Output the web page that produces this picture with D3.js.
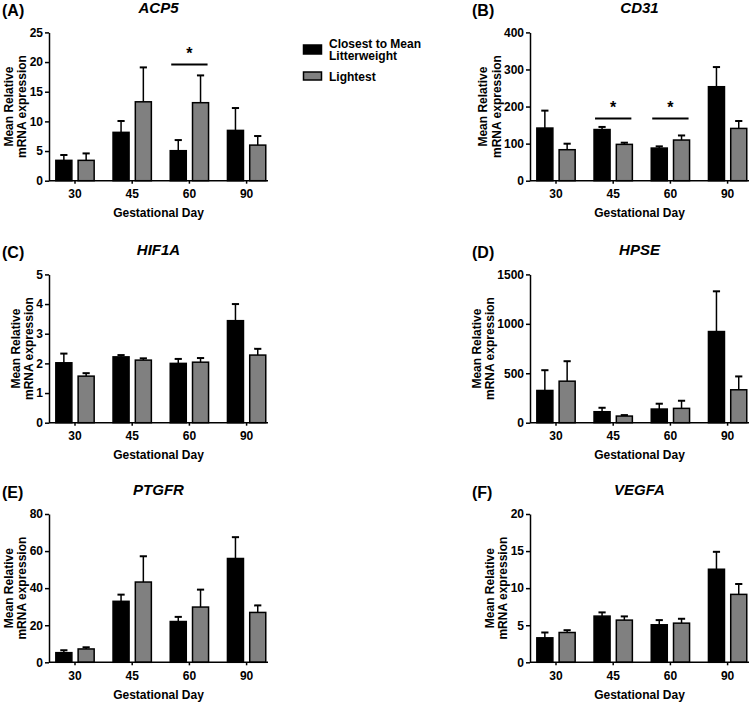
<!DOCTYPE html>
<html>
<head>
<meta charset="utf-8">
<script src="https://cdn.jsdelivr.net/npm/d3@7"></script>
<style>
  body { margin: 0; background: #fff; }
  text { font-family: 'Liberation Sans', Arial, sans-serif; font-weight: bold; fill: #000; }
</style>
</head>
<body>
<svg id="chart" width="756" height="705"></svg>
<script>
// gestational days on the x axis of every panel
var days = [30, 45, 60, 90]
var genes = ['ACP5', 'CD31', 'HIF1A', 'HPSE', 'PTGFR', 'VEGFA']
var panelLabels = ['(A)', '(B)', '(C)', '(D)', '(E)', '(F)']
var seriesNames = ['Closest to Mean Litterweight', 'Lightest']

// y axis ticks per panel
var yTicks = [
  [0, 5, 10, 15, 20, 25],
  [0, 100, 200, 300, 400],
  [0, 1, 2, 3, 4, 5],
  [0, 500, 1000, 1500],
  [0, 20, 40, 60, 80],
  [0, 5, 10, 15, 20]
]

// closest to mean litterweight: mean and error (SEM)
var closestMean = [
  [3.43, 8.15, 5.06, 8.48],
  [142, 138, 88, 253.5],
  [2.02, 2.22, 2.0, 3.44],
  [326, 111, 138, 922],
  [5.2, 32.9, 22.0, 56.0],
  [3.3, 6.23, 5.06, 12.55]
]
var closestErr = [
  [0.9, 1.91, 1.79, 3.77],
  [47, 7, 4.6, 53],
  [0.31, 0.06, 0.15, 0.56],
  [205, 40, 54, 407],
  [1.3, 3.6, 2.5, 11.5],
  [0.72, 0.5, 0.63, 2.35]
]

// lightest: mean and error (SEM)
var lightestMean = [
  [3.43, 13.3, 13.15, 6.0],
  [83.6, 98, 109.7, 141],
  [1.57, 2.11, 2.04, 2.28],
  [420, 67, 145, 333],
  [7.2, 43.3, 29.8, 26.9],
  [4.02, 5.69, 5.28, 9.16]
]
var lightestErr = [
  [1.17, 5.8, 4.6, 1.53],
  [16.2, 4.5, 12.3, 20],
  [0.1, 0.06, 0.14, 0.21],
  [202, 10, 77, 135],
  [0.9, 13.9, 9.4, 3.8],
  [0.31, 0.5, 0.59, 1.4]
]

// significance bars: which days, and at what value the bar sits
var sigDays = [[60], [45, 60], [], [], [], []]
var sigLevel = [19.6, 168, null, null, null, null]

var colours = ['#000000', '#808080']

var svg = d3.select('#chart')

// layout of the 2 x 3 grid
var colAxisX = [49, 530]
var colLabelX = [2, 472]
var rowBottom = [180.7, 422.7, 662.3]
var plotH = 148.3
var axisLen = 219

genes.forEach(function (gene, i) {
  var col = i % 2
  var row = Math.floor(i / 2)
  var x0 = colAxisX[col]
  var y0 = rowBottom[row]
  var yTop = y0 - plotH

  var g = svg.append('g')

  var x = d3.scaleBand()
    .domain(days)
    .range([x0 - 2.6, x0 + 226.2])
    .paddingInner(0.33)
    .paddingOuter(0.165)

  var xs = d3.scaleBand()
    .domain([0, 1])
    .range([0, x.bandwidth()])
    .paddingInner(0.28)

  var y = d3.scaleLinear()
    .domain([0, d3.max(yTicks[i])])
    .range([y0, yTop])

  var rows = days.map(function (d, j) {
    return [
      { day: d, s: 0, v: closestMean[i][j], e: closestErr[i][j] },
      { day: d, s: 1, v: lightestMean[i][j], e: lightestErr[i][j] }
    ]
  })
  var flat = [].concat.apply([], rows)

  // error bars (drawn first, bar covers the lower part)
  var eb = g.append('g').selectAll('g')
    .data(flat)
    .enter().append('g')
    .attr('transform', function (d) { return 'translate(' + (x(d.day) + xs(d.s) + xs.bandwidth() / 2) + ',0)' })
  eb.append('line')
    .attr('y1', function (d) { return y(d.v) })
    .attr('y2', function (d) { return y(d.v + d.e) })
    .attr('stroke', '#000')
    .attr('stroke-width', 1.5)
  eb.append('line')
    .attr('x1', -3.6)
    .attr('x2', 3.6)
    .attr('y1', function (d) { return y(d.v + d.e) })
    .attr('y2', function (d) { return y(d.v + d.e) })
    .attr('stroke', '#000')
    .attr('stroke-width', 2)

  g.append('g').selectAll('rect')
    .data(flat)
    .enter().append('rect')
    .attr('x', function (d) { return x(d.day) + xs(d.s) })
    .attr('width', xs.bandwidth())
    .attr('y', function (d) { return y(d.v) })
    .attr('height', function (d) { return y0 - y(d.v) })
    .attr('fill', function (d) { return colours[d.s] })
    .attr('stroke', '#000')
    .attr('stroke-width', 1.5)

  // y axis
  var yAxis = g.append('g')
    .attr('transform', 'translate(' + x0 + ',0)')
    .call(d3.axisLeft(y).tickValues(yTicks[i]).tickFormat(d3.format('d'))
      .tickSize(4).tickPadding(2).tickSizeOuter(0))
  yAxis.selectAll('text').style('font-size', '12px').style('font-family', null)
  yAxis.selectAll('line, path').attr('stroke', '#000').attr('stroke-width', 1.5)

  // x axis
  var xAxis = g.append('g')
    .attr('transform', 'translate(0,' + y0 + ')')
    .call(d3.axisBottom(x).tickSize(3).tickPadding(6))
  xAxis.select('.domain').remove()
  xAxis.selectAll('text').style('font-size', '12px').style('font-family', null)
  xAxis.selectAll('line').attr('stroke', '#000').attr('stroke-width', 1.5)
  g.append('line')
    .attr('x1', x0).attr('x2', x0 + axisLen)
    .attr('y1', y0).attr('y2', y0)
    .attr('stroke', '#000').attr('stroke-width', 1.5)

  // y axis title, placed past the widest tick label
  var maxW = 0
  yAxis.selectAll('text').each(function () { maxW = Math.max(maxW, this.getComputedTextLength()) })
  var lx2 = x0 - 6 - maxW - 7.5
  var lx1 = lx2 - 13.5
  var cy = (y0 + yTop) / 2
  ;[['Mean Relative', lx1], ['mRNA expression', lx2]].forEach(function (t) {
    g.append('text')
      .attr('transform', 'translate(' + t[1] + ',' + cy + ') rotate(-90)')
      .attr('text-anchor', 'middle')
      .attr('dy', '0.35em')
      .style('font-size', '12px')
      .text(t[0])
  })

  g.append('text')
    .attr('x', x0 + axisLen / 2)
    .attr('y', y0 + 36.5)
    .attr('text-anchor', 'middle')
    .style('font-size', '12px')
    .text('Gestational Day')

  g.append('text')
    .attr('x', x0 + axisLen / 2)
    .attr('y', yTop - 19.5)
    .attr('text-anchor', 'middle')
    .style('font-size', '15px')
    .style('font-style', 'italic')
    .text(gene)

  g.append('text')
    .attr('x', colLabelX[col])
    .attr('y', yTop - 16)
    .style('font-size', '16px')
    .text(panelLabels[i])

  // significance markers
  sigDays[i].forEach(function (d) {
    var ly = y(sigLevel[i])
    g.append('line')
      .attr('x1', x(d) + 1).attr('x2', x(d) + x.bandwidth() - 1)
      .attr('y1', ly).attr('y2', ly)
      .attr('stroke', '#000').attr('stroke-width', 2)
    g.append('text')
      .attr('x', x(d) + x.bandwidth() / 2)
      .attr('y', ly - 5)
      .attr('text-anchor', 'middle')
      .style('font-size', '16px')
      .text('*')
  })
})

// legend
var legend = svg.append('g').attr('transform', 'translate(303.5,0)')
legend.append('rect')
  .attr('x', 0).attr('y', 45).attr('width', 18).attr('height', 9)
  .attr('fill', colours[0]).attr('stroke', '#000').attr('stroke-width', 1.5)
legend.append('rect')
  .attr('x', 0).attr('y', 72).attr('width', 18).attr('height', 8)
  .attr('fill', colours[1]).attr('stroke', '#000').attr('stroke-width', 1.5)
var lt = legend.append('text').attr('x', 25.5).attr('y', 47.5).style('font-size', '12px')
lt.append('tspan').attr('x', 25.5).text('Closest to Mean')
lt.append('tspan').attr('x', 25.5).attr('dy', 12.5).text('Litterweight')
legend.append('text').attr('x', 25.5).attr('y', 80.5).style('font-size', '12px').text(seriesNames[1])
</script>
</body>
</html>
